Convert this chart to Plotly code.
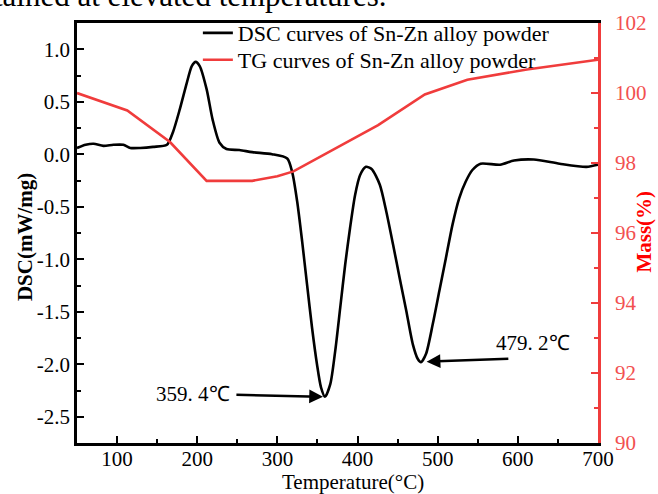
import plotly.graph_objects as go

# ---------------- data ----------------
dsc_temp = [50, 60.8, 70.7, 83, 95.4, 107.8, 116.5, 128.8, 144.9, 162.2, 169.7,
            178.3, 187, 193.2, 198.1, 203.1, 211.7, 219.2, 227.8, 236.5, 252.6,
            268.6, 293.4, 312.3, 318.5, 324.7, 330.9, 337, 343.2, 349.4, 354.4,
            359.4, 366, 372.2, 378.4, 384.6, 390.7, 396.9, 403.1, 410.5, 417.5,
            427.8, 436, 444.3, 452.6, 460.8, 469, 475.2, 479.2, 485.5, 493.8,
            502.1, 510.2, 518.5, 526.8, 535, 543.3, 553.5, 577.9, 595.2, 619.9,
            652.1, 685.5, 700]
dsc_value = [0.06, 0.09, 0.10, 0.08, 0.09, 0.09, 0.06, 0.06, 0.07, 0.09, 0.21,
             0.43, 0.68, 0.84, 0.88, 0.84, 0.62, 0.33, 0.11, 0.05, 0.04,
             0.02, 0.0, -0.04, -0.17, -0.45, -0.83, -1.24, -1.65, -2.0, -2.22,
             -2.31, -2.19, -1.87, -1.46, -1.05, -0.70, -0.39, -0.20, -0.12, -0.14,
             -0.29, -0.55, -0.86, -1.18, -1.49, -1.81, -1.95, -1.98, -1.90, -1.62,
             -1.30, -0.99, -0.67, -0.42, -0.26, -0.15, -0.09, -0.10, -0.06, -0.05,
             -0.09, -0.12, -0.10]

tg_temp = [50, 112.7, 166, 211.7, 268.6, 300, 320, 363.9, 388.6, 425.7,
           483.9, 537, 611.3, 700]
tg_mass = [100.0, 99.5, 98.6, 97.49, 97.49, 97.62, 97.76, 98.31, 98.6, 99.08,
           99.96, 100.38, 100.67, 100.95]

peak_labels = ["359. 4℃", "479. 2℃"]
peak_temp = [359.4, 479.2]
peak_value = [-2.31, -1.98]

dsc_tickvals = [1.0, 0.5, 0.0, -0.5, -1.0, -1.5, -2.0, -2.5]
dsc_ticktext = ["1.0", "0.5", "0.0", "-0.5", "-1.0", "-1.5", "-2.0", "-2.5"]
mass_tickvals = [90, 92, 94, 96, 98, 100, 102]
temp_tickvals = [100, 200, 300, 400, 500, 600, 700]

FONT = "Liberation Serif, Times New Roman, serif"
RED = "#F03C3C"
RED_TXT = "#F25050"

fig = go.Figure()
fig.add_trace(go.Scatter(
    x=dsc_temp, y=dsc_value, mode="lines",
    name="DSC curves of Sn-Zn alloy powder",
    line=dict(color="black", width=2.6, shape="spline", smoothing=0.7),
    yaxis="y", legend="legend"))
fig.add_trace(go.Scatter(
    x=tg_temp, y=tg_mass, mode="lines",
    name="TG curves of Sn-Zn alloy powder",
    line=dict(color=RED, width=2.6),
    yaxis="y2", legend="legend2"))

legend_common = dict(xanchor="left", yanchor="top", bgcolor="rgba(0,0,0,0)",
                     borderwidth=0, itemwidth=30,
                     font=dict(family=FONT, size=22, color="black"))

fig.update_layout(
    width=658, height=494,
    margin=dict(l=77, r=60, t=20, b=51),
    paper_bgcolor="white", plot_bgcolor="white",
    font=dict(family=FONT, size=21, color="black"),
    showlegend=True,
    legend=dict(x=0.232, y=1.026, **legend_common),
    legend2=dict(x=0.232, y=0.962, **legend_common),
    xaxis=dict(range=[50, 700], tickvals=temp_tickvals,
               showline=True, linecolor="black", linewidth=2.6, mirror=True,
               ticks="inside", ticklen=7, tickwidth=2.4, tickcolor="black",
               minor=dict(dtick=50, tick0=0, ticks="inside", ticklen=4,
                          tickwidth=2.2, tickcolor="black"),
               showgrid=False, zeroline=False,
               tickfont=dict(family=FONT, size=21, color="black"),
               ticklabelstandoff=-5),
    yaxis=dict(range=[-2.75, 1.25], tickvals=dsc_tickvals, ticktext=dsc_ticktext,
               showline=True, linecolor="black", linewidth=2.6,
               ticks="inside", ticklen=7, tickwidth=2.4, tickcolor="black",
               minor=dict(dtick=0.25, tick0=0, ticks="inside", ticklen=4,
                          tickwidth=2.2, tickcolor="black"),
               showgrid=False, zeroline=False,
               tickfont=dict(family=FONT, size=21, color="black")),
    yaxis2=dict(range=[90, 102], tickvals=mass_tickvals, overlaying="y",
                side="right", showline=True, linecolor=RED, linewidth=2.6,
                ticks="inside", ticklen=7, tickwidth=2.4, tickcolor=RED,
                minor=dict(dtick=1, tick0=0, ticks="inside", ticklen=4,
                           tickwidth=2.2, tickcolor=RED),
                showgrid=False, zeroline=False,
                tickfont=dict(family=FONT, size=21, color=RED_TXT),
                ticklabelstandoff=10),
)

# axis titles
fig.add_annotation(text="Temperature(°C)", xref="paper", yref="paper",
                   x=0.53, y=-0.094, xanchor="center", yanchor="middle",
                   showarrow=False, font=dict(family=FONT, size=21, color="black"))
fig.add_annotation(text="<b>DSC(mW/mg)</b>", xref="paper", yref="paper",
                   x=-0.1, y=0.49, xanchor="center", yanchor="middle",
                   textangle=-90, showarrow=False,
                   font=dict(family=FONT, size=21, color="black"))
fig.add_annotation(text="<b>Mass(%)</b>", xref="paper", yref="paper",
                   x=1.088, y=0.503, xanchor="center", yanchor="middle",
                   textangle=-90, showarrow=False,
                   font=dict(family=FONT, size=21, color="red"))

# cut-off text from the surrounding document
fig.add_annotation(text="tained at elevated temperatures.", xref="paper", yref="paper",
                   x=0.597, y=1.0195, xanchor="right", yanchor="bottom",
                   showarrow=False, font=dict(family=FONT, size=31, color="black"))

# peak annotations with arrows
fig.add_annotation(x=peak_temp[0] - 2.5, y=peak_value[0], ax=247, ay=-2.29,
                   xref="x", yref="y", axref="x", ayref="y", text="",
                   showarrow=True, arrowhead=2, arrowsize=1.1, arrowwidth=2.5,
                   arrowcolor="black")
fig.add_annotation(x=195, y=-2.287, xref="x", yref="y", text=peak_labels[0],
                   showarrow=False, font=dict(family=FONT, size=21, color="black"))
fig.add_annotation(x=peak_temp[1] + 7, y=peak_value[1] + 0.005, ax=590, ay=-1.946,
                   xref="x", yref="y", axref="x", ayref="y", text="",
                   showarrow=True, arrowhead=2, arrowsize=1.1, arrowwidth=2.5,
                   arrowcolor="black")
fig.add_annotation(x=619, y=-1.795, xref="x", yref="y", text=peak_labels[1],
                   showarrow=False, font=dict(family=FONT, size=21, color="black"))

fig.write_html("out.html")
